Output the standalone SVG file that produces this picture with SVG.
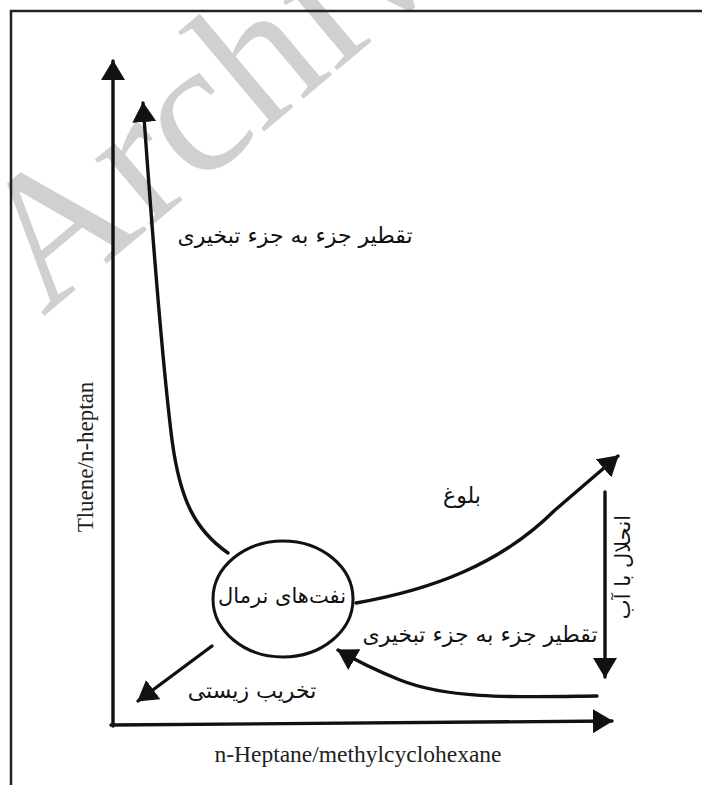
<svg xmlns="http://www.w3.org/2000/svg" width="702" height="785" viewBox="0 0 702 785">
<defs>
<style>
.ln{fill:none;stroke:#111;stroke-width:3.4;stroke-linecap:round;stroke-linejoin:round}
.fa{font-family:"DejaVu Sans","Noto Sans",sans-serif;font-size:22px;fill:#111;text-anchor:middle}
.en{font-family:"Liberation Serif","Times New Roman",serif;font-size:23px;fill:#222;text-anchor:middle}
</style>
<marker id="ah" viewBox="0 0 20 24" refX="19" refY="12" markerWidth="20" markerHeight="24" markerUnits="userSpaceOnUse" orient="auto">
<path d="M0,0 L20,12 L0,24 z" fill="#111"/>
</marker>
</defs>
<rect width="702" height="785" fill="#fff"/>
<text x="43" y="317" transform="rotate(-40 43 317)" font-family="Liberation Serif, serif" font-size="190" fill="#d0d0d0">Archive</text>
<path d="M11,785 V11 H702" fill="none" stroke="#222" stroke-width="2.5"/>
<g id="connectors">
<path class="ln" d="M113,726 V61" marker-end="url(#ah)"/>
<path class="ln" d="M111,725 L612,721" marker-end="url(#ah)"/>
<path class="ln" d="M228,553 C195,530 180,500 172,440 C162,360 152,230 143,103" marker-end="url(#ah)"/>
<path class="ln" d="M356,603 C430,590 500,565 555,510 L618,456" marker-end="url(#ah)"/>
<path class="ln" d="M605,492 V677" marker-end="url(#ah)"/>
<path class="ln" d="M597,696 C520,697 450,700 400,680 C375,670 355,660 338,650" marker-end="url(#ah)"/>
<path class="ln" d="M212,646 L138,701" marker-end="url(#ah)"/>
</g>
<g id="node-normal">
<ellipse cx="283" cy="599" rx="70" ry="58" fill="#fff" stroke="#111" stroke-width="3"/>
<text class="fa" x="282" y="603" style="font-size:21px">نفت‌های نرمال</text>
</g>
<g id="label-frac-top"><text class="fa" x="295" y="243">تقطیر جزء به جزء تبخیری</text></g>
<g id="label-frac-bottom"><text class="fa" x="480" y="642">تقطیر جزء به جزء تبخیری</text></g>
<g id="label-bio"><text class="fa" x="252" y="698">تخریب زیستی</text></g>
<g id="label-mature"><text class="fa" x="462" y="503">بلوغ</text></g>
<g id="label-water"><text class="fa" x="623" y="567" transform="rotate(-90 623 567)" dy="7" style="font-size:21px">انحلال با آب</text></g>
<g id="axis-labels">
<text class="en" x="93" y="457" transform="rotate(-90 93 457)">Tluene/n-heptan</text>
<text class="en" x="358" y="762" style="font-size:23.5px">n-Heptane/methylcyclohexane</text>
</g>
</svg>
